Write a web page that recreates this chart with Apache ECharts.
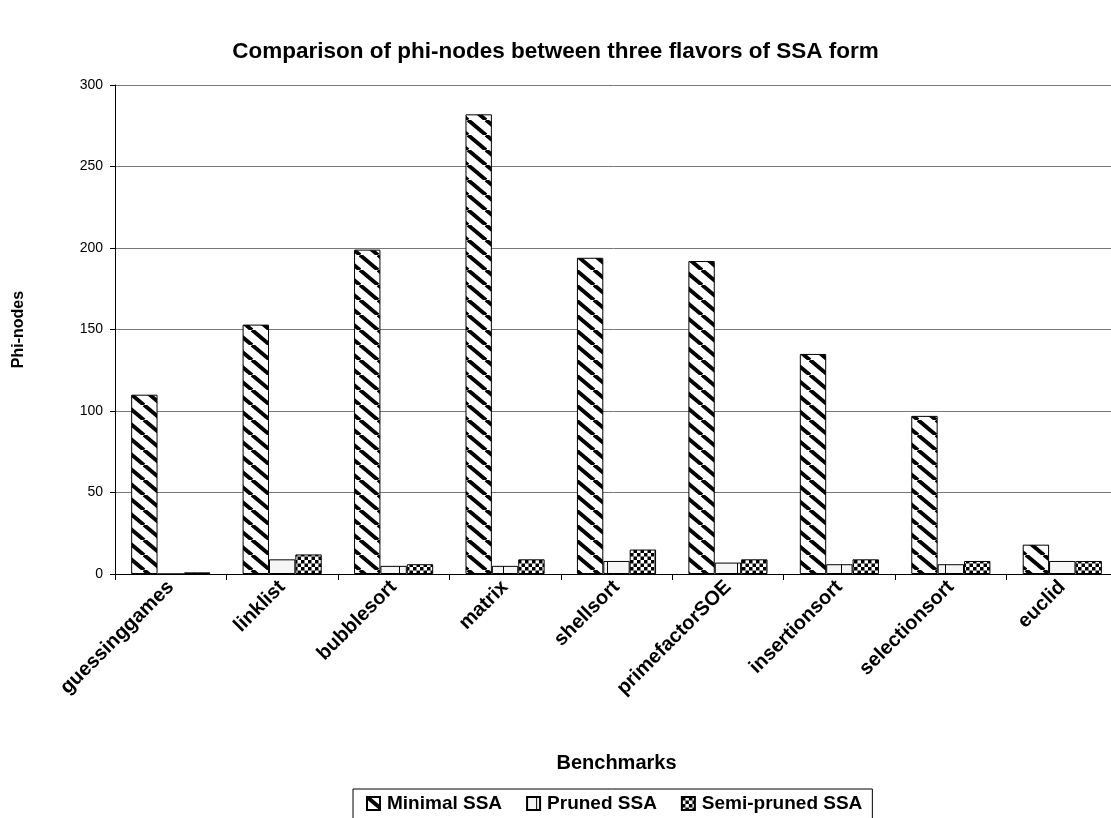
<!DOCTYPE html>
<html>
<head>
<meta charset="utf-8">
<script src="https://cdn.jsdelivr.net/npm/echarts@6/dist/echarts.min.js"></script>
<style>
  html, body { margin: 0; padding: 0; background: #fff; }
  #chart { width: 1111px; height: 818px; }
</style>
</head>
<body>
<div id="chart"></div>
<script>
// Benchmarks and phi-node counts per SSA flavor
const categories = ['guessinggames', 'linklist', 'bubblesort', 'matrix', 'shellsort',
  'primefactorSOE', 'insertionsort', 'selectionsort', 'euclid'];
const minimalSSA = [110, 153, 199, 282, 194, 192, 135, 97, 18];
const prunedSSA = [0, 9, 5, 5, 8, 7, 6, 6, 8];
const semiPrunedSSA = [1, 12, 6, 9, 15, 9, 9, 8, 8];
const seriesNames = ['Minimal SSA', 'Pruned SSA', 'Semi-pruned SSA'];

const FONT = '"Liberation Sans", Arial, sans-serif';

// Fill patterns drawn on small canvases
function tile(w, h, draw) {
  const c = document.createElement('canvas');
  c.width = w; c.height = h;
  const ctx = c.getContext('2d');
  ctx.fillStyle = '#fff';
  ctx.fillRect(0, 0, w, h);
  draw(ctx, w, h);
  return { image: c, repeat: 'repeat' };
}

// wide downward diagonal stripes
const diagonal = tile(18, 15, (ctx, w, h) => {
  ctx.strokeStyle = '#000';
  ctx.lineWidth = 4;
  [-w, 0, w].forEach(off => {
    ctx.beginPath();
    ctx.moveTo(off, 0);
    ctx.lineTo(off + w, h);
    ctx.stroke();
  });
});

// light fill with a sparse vertical line
const vertical = tile(26, 26, (ctx, w, h) => {
  ctx.fillStyle = '#f6f6f6';
  ctx.fillRect(0, 0, w, h);
  ctx.fillStyle = '#000';
  ctx.fillRect(9, 0, 1, h);
});

// small checkerboard
const checker = tile(7, 7, (ctx) => {
  ctx.fillStyle = '#000';
  ctx.fillRect(0, 0, 3.5, 3.5);
  ctx.fillRect(3.5, 3.5, 3.5, 3.5);
});

const fills = [diagonal, vertical, checker];
const values = [minimalSSA, prunedSSA, semiPrunedSSA];

const chart = echarts.init(document.getElementById('chart'), null, { renderer: 'canvas' });

chart.setOption({
  backgroundColor: '#fff',
  animation: false,
  title: {
    text: 'Comparison of phi-nodes between three flavors of SSA form',
    left: 'center',
    top: 35,
    textStyle: { fontFamily: FONT, fontSize: 22.5, fontWeight: 'bold', color: '#000' }
  },
  legend: {
    data: seriesNames,
    icon: 'rect',
    left: 353,
    top: 789,
    itemWidth: 13,
    itemHeight: 13,
    itemGap: 24,
    padding: [5, 10, 8, 13],
    borderColor: '#000',
    borderWidth: 1,
    textStyle: { fontFamily: FONT, fontSize: 19, fontWeight: 'bold', color: '#000', padding: [0, 0, 0, 2] }
  },
  grid: {
    left: 115, top: 85, right: -7, bottom: 244,
    containLabel: false,
    outerBoundsMode: 'none'
  },
  xAxis: {
    type: 'category',
    data: categories,
    name: 'Benchmarks',
    nameLocation: 'middle',
    nameGap: 179,
    nameTextStyle: { fontFamily: FONT, fontSize: 20, fontWeight: 'bold', color: '#000' },
    axisLine: { lineStyle: { color: '#000', width: 1 } },
    axisTick: { show: true, alignWithLabel: false, length: 6, lineStyle: { color: '#000' } },
    axisLabel: {
      rotate: 45, interval: 0, margin: 10,
      fontFamily: FONT, fontSize: 20, fontWeight: 'bold', color: '#000'
    }
  },
  yAxis: {
    type: 'value',
    min: 0, max: 300, interval: 50,
    name: 'Phi-nodes',
    nameLocation: 'middle',
    nameGap: 88,
    nameRotate: 90,
    nameTextStyle: { fontFamily: FONT, fontSize: 16, fontWeight: 'bold', color: '#000' },
    axisLine: { show: true, lineStyle: { color: '#000', width: 1 } },
    axisTick: { show: true, length: 5, lineStyle: { color: '#000' } },
    axisLabel: { margin: 12, fontFamily: FONT, fontSize: 14, color: '#000' },
    splitLine: { show: true, lineStyle: { color: '#777', width: 1 } }
  },
  series: seriesNames.map((name, i) => ({
    name,
    type: 'bar',
    data: values[i],
    barGap: '0%',
    barCategoryGap: '29%',
    itemStyle: { color: fills[i], borderColor: '#000', borderWidth: 1 },
    emphasis: { disabled: true }
  }))
});
</script>
</body>
</html>
